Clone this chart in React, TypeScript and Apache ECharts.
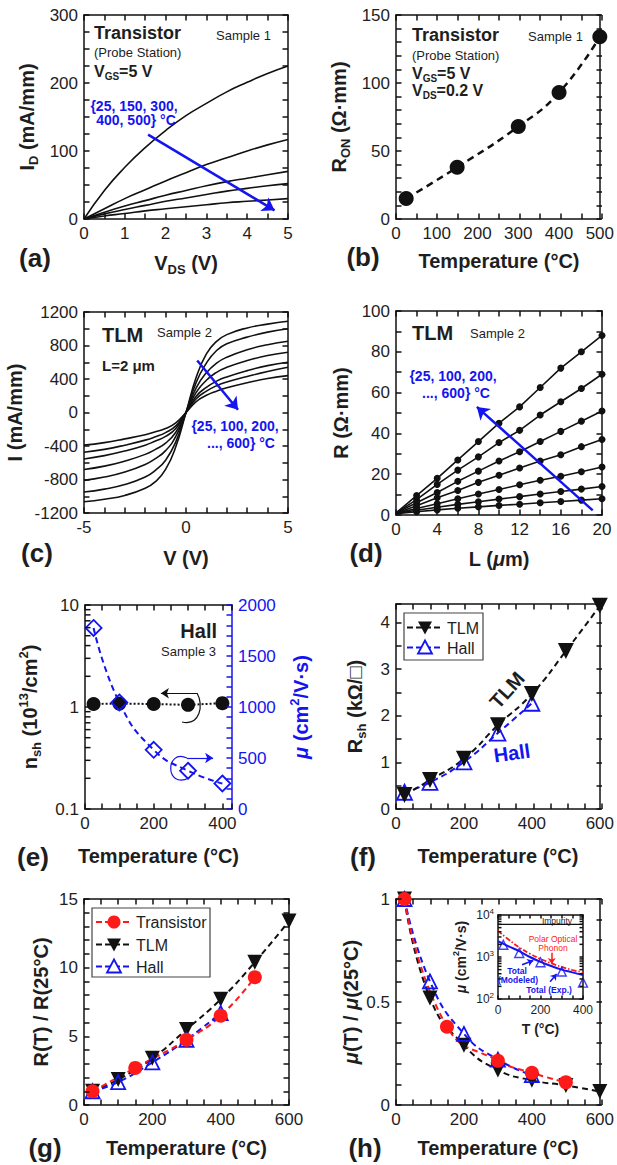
import React, { useEffect, useRef } from 'react';
import * as echarts from 'echarts';

const FONT = '"Liberation Sans", Arial, Helvetica, sans-serif';
const BLACK = '#111111';
const TXT = '#1e1e1e';
const BLUE = '#1414f0';
const RED = '#ff1a1a';
const CLEAR = 'rgba(0,0,0,0)';

// ---------- (a) Transistor I-V, Sample 1 ----------
const vdsA = [0, 0.5, 1, 1.5, 2, 2.5, 3, 3.5, 4, 4.5, 5];
const idA25 = [0, 42, 76, 105, 130, 152, 170, 187, 201, 214, 225];
const idA150 = [0, 15, 30, 43, 56, 68, 80, 90, 100, 109, 117];
const idA300 = [0, 10, 19, 27, 35, 42, 49, 55, 60, 65, 70];
const idA400 = [0, 7.5, 14, 20, 26, 31, 36, 41, 45, 49, 52];
const idA500 = [0, 4.5, 8, 12, 15, 18, 21, 24, 26, 28, 30];

// ---------- (b) R_ON vs temperature ----------
const tempB = [25, 150, 300, 400, 500];
const ronB = [15, 38, 68, 93, 134];

// ---------- (c) TLM I-V, L = 2 um ----------
const vC = [-5, -4, -3, -2, -1.5, -1, -0.5, 0, 0.5, 1, 1.5, 2, 3, 4, 5];
const iC25 = [-1065, -1035, -990, -905, -825, -680, -410, 0, 420, 700, 850, 930, 1010, 1055, 1090];
const iC100 = [-950, -915, -860, -770, -690, -570, -350, 0, 360, 590, 740, 820, 900, 960, 1000];
const iC200 = [-810, -770, -710, -620, -550, -455, -285, 0, 295, 475, 590, 660, 750, 810, 850];
const iC300 = [-680, -640, -580, -500, -440, -365, -235, 0, 240, 385, 480, 540, 620, 680, 720];
const iC400 = [-555, -515, -460, -390, -340, -285, -190, 0, 195, 300, 375, 425, 500, 560, 600];
const iC500 = [-475, -440, -390, -330, -290, -240, -160, 0, 165, 255, 320, 365, 430, 490, 540];
const iC600 = [-390, -360, -315, -265, -230, -190, -125, 0, 130, 205, 255, 295, 355, 405, 440];

// ---------- (d) TLM R vs L ----------
const lD = [0, 2, 4, 6, 8, 10, 12, 14, 16, 18, 20];
const rD600 = [1.0, 9.5, 18, 27, 36, 45, 53, 62.5, 72, 80, 88];
const rD500 = [1.0, 7.5, 15, 22, 28.5, 35.5, 41.5, 49, 55.5, 62, 69];
const rD400 = [1.0, 6, 11, 16.5, 21.5, 26.5, 31, 36, 41, 46, 51];
const rD300 = [0.9, 4.5, 8.5, 12, 16, 19.5, 23, 26.5, 29.5, 33.5, 37];
const rD200 = [0.8, 3.2, 5.5, 8, 10.3, 12.5, 14.8, 17, 19, 21.2, 23.5];
const rD100 = [0.7, 2.3, 3.8, 5.2, 6.5, 7.8, 9, 10.3, 11.5, 12.7, 14];
const rD25 = [0.6, 1.6, 2.5, 3.3, 4, 4.7, 5.3, 6, 6.6, 7.3, 8];

// ---------- (e) Hall ----------
const tempE = [25, 100, 200, 300, 400];
const nshE = [1.07, 1.08, 1.07, 1.05, 1.09];
const muE = [1775, 1045, 580, 375, 250];
const logMinorE = [0.2, 0.3, 0.4, 0.5, 0.6, 0.7, 0.8, 0.9, 2, 3, 4, 5, 6, 7, 8, 9];

// ---------- (f) Rsh ----------
const tempTLM = [25, 100, 200, 300, 400, 500, 600];
const tempHall = [25, 100, 200, 300, 400];
const tempTr = [25, 150, 300, 400, 500];
const rshTLM = [0.30, 0.62, 1.08, 1.80, 2.47, 3.39, 4.36];
const rshHall = [0.36, 0.57, 1.01, 1.63, 2.27];

// ---------- (g) R(T)/R(25C) ----------
const rnTr = [1.0, 2.7, 4.75, 6.5, 9.3];
const rnTLM = [1.0, 1.85, 3.4, 5.5, 7.7, 10.4, 13.4];
const rnHall = [1.0, 1.67, 3.1, 4.75, 6.7];

// ---------- (h) mu(T)/mu(25C) ----------
const muTr = [1, 0.38, 0.215, 0.156, 0.11];
const muTLM = [1, 0.52, 0.29, 0.17, 0.12, 0.095, 0.065];
const muHall = [1, 0.6, 0.345, 0.22, 0.145];

// ---------- (h) inset ----------
const tempIn = [25, 100, 200, 300, 400];
const muIn = [1950, 1250, 750, 450, 245];
const tModel = [0, 50, 100, 150, 200, 250, 300, 350, 400];
const muPOP = [4200, 2600, 1700, 1200, 900, 710, 580, 490, 430];
const muTot = [2400, 1800, 1380, 1000, 770, 610, 500, 430, 370];
const impurityT = [0, 400];
const impurityMu = [6000, 6000];
const logMinorIn = [200, 300, 400, 500, 600, 700, 800, 900, 2000, 3000, 4000, 5000, 6000, 7000, 8000, 9000];

// plot rectangles [left, top, width, height]
const GRIDS: Record<string, number[]> = {
  a: [84, 15, 204, 204], b: [396, 15, 206, 204], c: [84, 312, 204, 201], d: [396, 311, 206, 204],
  e: [85, 605, 147, 204], f: [396, 604, 206, 205], g: [84, 899, 205, 206], h: [396, 899, 206, 206],
  inset: [498, 915, 85, 84],
};

const zip = (xs: number[], ys: number[]) => xs.map((x, i) => [x, ys[i]]);

function majorFmt(major: number) {
  return (v: number) => {
    const r = v / major;
    return Math.abs(r - Math.round(r)) < 1e-6 ? String(+v.toFixed(6)) : '';
  };
}

function richName(color: string, fs: number) {
  const s = Math.round(fs * 0.65);
  return {
    b: { fontSize: fs, fontWeight: 'bold', fontFamily: FONT, color, lineHeight: fs + 6, verticalAlign: 'middle' },
    i: { fontSize: fs, fontWeight: 'bold', fontStyle: 'italic', fontFamily: FONT, color, lineHeight: fs + 6, verticalAlign: 'middle' },
    sub: { fontSize: s, fontWeight: 'bold', fontFamily: FONT, color, lineHeight: s, verticalAlign: 'bottom' },
    sup: { fontSize: s, fontWeight: 'bold', fontFamily: FONT, color, lineHeight: s, verticalAlign: 'top' },
  };
}
function richG(color: string, fs: number) {
  const s = Math.round(fs * 0.65);
  return {
    b: { fontSize: fs, fontWeight: 'bold', fontFamily: FONT, fill: color, lineHeight: fs + 6, verticalAlign: 'middle' },
    sub: { fontSize: s, fontWeight: 'bold', fontFamily: FONT, fill: color, lineHeight: s, verticalAlign: 'bottom' },
  };
}

// ---------------- tick overlay charts (one small chart per panel) ----------------
type Side = { min: number; max: number; step?: number; log?: boolean; color?: string };
type TickPanel = { key: string; x: Side; yl: Side; yr: Side; len: number; minorL?: number[]; minorR?: number[] };
const PAD = 12;
const TICK_PANELS: TickPanel[] = [
  { key: 'a', x: { min: 0, max: 5, step: 0.5 }, yl: { min: 0, max: 300, step: 25 }, yr: { min: 0, max: 300, step: 25 }, len: 5.5 },
  { key: 'b', x: { min: 0, max: 500, step: 50 }, yl: { min: 0, max: 150, step: 10 }, yr: { min: 0, max: 150, step: 10 }, len: 5.5 },
  { key: 'c', x: { min: -5, max: 5, step: 1 }, yl: { min: -1200, max: 1200, step: 200 }, yr: { min: -1200, max: 1200, step: 200 }, len: 5.5 },
  { key: 'd', x: { min: 0, max: 20, step: 2 }, yl: { min: 0, max: 100, step: 10 }, yr: { min: 0, max: 100, step: 10 }, len: 5.5 },
  { key: 'e', x: { min: 0, max: 428, step: 50 }, yl: { min: 0.1, max: 10, log: true }, yr: { min: 0, max: 2000, step: 100, color: BLUE }, len: 5.5, minorL: logMinorE },
  { key: 'f', x: { min: 0, max: 600, step: 50 }, yl: { min: 0, max: 4.4, step: 0.5 }, yr: { min: 0, max: 4.4, step: 0.5 }, len: 5.5 },
  { key: 'g', x: { min: 0, max: 600, step: 50 }, yl: { min: 0, max: 15, step: 1 }, yr: { min: 0, max: 15, step: 1 }, len: 5.5 },
  { key: 'h', x: { min: 0, max: 600, step: 50 }, yl: { min: 0, max: 1, step: 0.1 }, yr: { min: 0, max: 1, step: 0.1 }, len: 5.5 },
  { key: 'inset', x: { min: 0, max: 400, step: 50 }, yl: { min: 100, max: 10000, log: true }, yr: { min: 100, max: 10000, log: true }, len: 3.5, minorL: logMinorIn, minorR: logMinorIn },
];

function tickOption(p: TickPanel) {
  const [, , w, h] = GRIDS[p.key];
  const mk = (pos: string, s: Side) => ({
    gridIndex: 0, position: pos, type: s.log ? 'log' : 'value', min: s.min, max: s.max,
    ...(s.log ? { logBase: 10 } : { interval: s.step }),
    axisLine: { show: false, onZero: false },
    axisLabel: { show: false },
    splitLine: { show: false },
    axisTick: { show: true, inside: true, length: p.len, lineStyle: { color: s.color || BLACK, width: 1.5 } },
  });
  const series: any[] = [
    { type: 'line', xAxisIndex: 0, yAxisIndex: 0, data: [], symbol: 'none', silent: true },
    { type: 'line', xAxisIndex: 1, yAxisIndex: 1, data: [], symbol: 'none', silent: true },
  ];
  const minor = (yIdx: number, vals: number[], atMax: boolean) => {
    const xv = atMax ? p.x.max : p.x.min;
    series.push({
      type: 'custom', xAxisIndex: 0, yAxisIndex: yIdx, clip: false, silent: true,
      data: vals.map((v) => [xv, v]), encode: { x: 0, y: 1 },
      renderItem: (_q: any, api: any) => {
        const c = api.coord([api.value(0), api.value(1)]);
        const d = atMax ? -p.len : p.len;
        return { type: 'line', shape: { x1: c[0], y1: c[1], x2: c[0] + d, y2: c[1] }, style: { stroke: BLACK, lineWidth: 1.5 } };
      },
    });
  };
  if (p.minorL) minor(0, p.minorL, false);
  if (p.minorR) minor(1, p.minorR, true);
  return {
    animation: false, backgroundColor: 'transparent',
    grid: [{ left: PAD, top: PAD, width: w, height: h }],
    xAxis: [mk('bottom', p.x), mk('top', p.x)],
    yAxis: [mk('left', p.yl), mk('right', p.yr)],
    series,
  };
}

// ---------------- main chart ----------------
function buildOption() {
  const grid: any[] = [];
  const xAxis: any[] = [];
  const yAxis: any[] = [];
  const series: any[] = [];
  const graphic: any[] = [];

  const addGrid = (key: string) => {
    const [l, t, w, h] = GRIDS[key];
    grid.push({ left: l, top: t, width: w, height: h });
    return grid.length - 1;
  };

  const axis = (gi: number, pos: string, o: any) => {
    const isX = pos === 'bottom' || pos === 'top';
    const col = o.color || BLACK;
    const ax: any = {
      gridIndex: gi, position: pos, type: o.log ? 'log' : 'value', min: o.min, max: o.max,
      axisLine: { show: true, onZero: false, lineStyle: { color: col, width: 1.5 } },
      axisTick: { show: false },
      splitLine: { show: false },
      axisLabel: {
        show: !!o.labels, margin: o.margin ?? 6, fontSize: o.fs ?? 17, fontFamily: FONT,
        color: o.labelColor ?? TXT, showMinLabel: true, showMaxLabel: true,
      },
      z: 3,
    };
    if (o.log) ax.logBase = 10; else ax.interval = o.step;
    if (o.labels) {
      if (o.fmt) ax.axisLabel.formatter = o.fmt;
      else if (o.major) ax.axisLabel.formatter = majorFmt(o.major);
      if (o.labelRich) ax.axisLabel.rich = o.labelRich;
      if (o.name) {
        ax.name = o.name; ax.nameLocation = 'middle'; ax.nameGap = o.nameGap;
        ax.nameTextStyle = { rich: o.nameRich || richName(TXT, o.nameFs ?? 20) };
      }
    }
    const arr = isX ? xAxis : yAxis;
    arr.push(ax);
    return arr.length - 1;
  };

  const box = (gi: number, xo: any, yo: any) => {
    const xi = axis(gi, 'bottom', { ...xo, labels: true });
    axis(gi, 'top', { ...xo, labels: false });
    const yi = axis(gi, 'left', { ...yo, labels: true });
    axis(gi, 'right', { ...yo, labels: false });
    return [xi, yi];
  };

  const arrow = (p1: number[], p2: number[], color: string, width: number, size: number) => ({
    silent: true, symbol: ['none', 'arrow'], symbolSize: size, label: { show: false },
    lineStyle: { color, width, type: 'solid' }, emphasis: { disabled: true },
    data: [[{ coord: p1 }, { coord: p2 }]],
  });

  const T = (x: number, y: number, text: string, o: any = {}, extra: any = {}) => {
    graphic.push({
      type: 'text', x, y, silent: true, z: 10, ...extra,
      style: { text, fontFamily: FONT, fontSize: 13, fill: TXT, align: 'left', verticalAlign: 'middle', ...o },
    });
  };
  const subRich = (fs: number, color = TXT) => ({
    b: { fontSize: fs, fontWeight: 'bold', fontFamily: FONT, fill: color, lineHeight: fs + 4, verticalAlign: 'middle' },
    s: { fontSize: Math.round(fs * 0.65), fontWeight: 'bold', fontFamily: FONT, fill: color, lineHeight: Math.round(fs * 0.65), verticalAlign: 'bottom' },
  });

  const TEMP = '{b|Temperature (°C)}';

  // ===== (a) =====
  const ga = addGrid('a');
  const [xa, ya] = box(ga,
    { min: 0, max: 5, step: 0.5, major: 1, name: '{b|V}{sub|DS}{b| (V)}', nameGap: 31 },
    { min: 0, max: 300, step: 25, major: 100, name: '{b|I}{sub|D}{b| (mA/mm)}', nameGap: 44 });
  [idA25, idA150, idA300, idA400, idA500].forEach((arr, k) => {
    series.push({
      type: 'line', xAxisIndex: xa, yAxisIndex: ya, data: zip(vdsA, arr), smooth: true, symbol: 'none',
      lineStyle: { color: BLACK, width: 1.6 }, silent: true,
      markLine: k === 0 ? arrow([1.57, 124], [4.67, 12.7], BLUE, 2.5, 12) : undefined,
    });
  });

  // ===== (b) =====
  const gb = addGrid('b');
  const [xb, yb] = box(gb, { min: 0, max: 500, step: 50, major: 100 }, { min: 0, max: 150, step: 10, major: 50 });
  series.push({
    type: 'line', xAxisIndex: xb, yAxisIndex: yb, data: zip(tempB, ronB), smooth: true,
    symbol: 'circle', symbolSize: 15, itemStyle: { color: BLACK },
    lineStyle: { color: BLACK, width: 2.5, type: [7, 5] }, silent: true,
  });
  T(499, 261, 'Temperature (°C)', { fontSize: 20, fontWeight: 'bold', align: 'center' });
  T(339, 117, '{b|R}{sub|ON}{b| (Ω·mm)}', { rich: richG(TXT, 20), align: 'center' }, { rotation: Math.PI / 2 });

  // ===== (c) =====
  const gc = addGrid('c');
  const [xc, yc] = box(gc,
    { min: -5, max: 5, step: 1, major: 5, name: '{b|V (V)}', nameGap: 32 },
    { min: -1200, max: 1200, step: 200, major: 400, name: '{b|I (mA/mm)}', nameGap: 56 });
  [iC25, iC100, iC200, iC300, iC400, iC500, iC600].forEach((arr, k) => {
    series.push({
      type: 'line', xAxisIndex: xc, yAxisIndex: yc, data: zip(vC, arr), smooth: true, symbol: 'none',
      lineStyle: { color: BLACK, width: 1.6 }, silent: true,
      markLine: k === 0 ? arrow([0.55, 620], [2.55, 32], BLUE, 2.5, 12) : undefined,
    });
  });

  // ===== (d) =====
  const gd = addGrid('d');
  const [xd, yd] = box(gd,
    { min: 0, max: 20, step: 2, major: 4, name: '{b|L (}{i|μ}{b|m)}', nameGap: 31 },
    { min: 0, max: 100, step: 10, major: 20, name: '{b|R (Ω·mm)}', nameGap: 42 });
  [rD25, rD100, rD200, rD300, rD400, rD500, rD600].forEach((arr, k) => {
    series.push({
      type: 'line', xAxisIndex: xd, yAxisIndex: yd,
      data: lD.map((l, i) => (i === 0 ? { value: [l, arr[i]], symbol: 'none' } : [l, arr[i]])),
      symbol: 'circle', symbolSize: 7, showSymbol: true, itemStyle: { color: BLACK },
      lineStyle: { color: BLACK, width: 1.6 }, silent: true,
      markLine: k === 0 ? arrow([19.1, 2.3], [7.85, 53], BLUE, 2.5, 12) : undefined,
    });
  });

  // ===== (e) =====
  const ge = addGrid('e');
  const xe = axis(ge, 'bottom', { min: 0, max: 428, step: 50, major: 200, labels: true, name: TEMP, nameGap: 34 });
  axis(ge, 'top', { min: 0, max: 428, step: 50, labels: false });
  const yeL = axis(ge, 'left', {
    min: 0.1, max: 10, log: true, labels: true,
    fmt: (v: number) => String(+v.toFixed(3)),
    name: '{b|n}{sub|sh}{b| (10}{sup|13}{b|/cm}{sup|2}{b|)}', nameGap: 42,
  });
  const yeR = axis(ge, 'right', {
    min: 0, max: 2000, step: 100, major: 500, labels: true, color: BLUE, labelColor: BLUE,
    name: '{i|μ}{b| (cm}{sup|2}{b|/V·s)}', nameGap: 56, nameRich: richName(BLUE, 20),
  });
  series.push({
    type: 'line', xAxisIndex: xe, yAxisIndex: yeL, data: zip(tempE, nshE), symbol: 'circle', symbolSize: 14,
    itemStyle: { color: BLACK }, lineStyle: { color: BLACK, width: 2, type: [2, 2] }, silent: true,
    markLine: arrow([326, 1.363], [221, 1.363], BLACK, 1.2, 8),
  });
  series.push({
    type: 'line', xAxisIndex: xe, yAxisIndex: yeR, data: zip(tempE, muE), smooth: true, symbol: 'diamond', symbolSize: 16,
    itemStyle: { color: CLEAR, borderColor: BLUE, borderWidth: 1.8 },
    lineStyle: { color: BLUE, width: 2, type: [6, 4] }, silent: true,
    markLine: arrow([297, 500], [373, 500], BLUE, 1.2, 8),
  });

  // ===== (f) =====
  const gf = addGrid('f');
  const [xf, yf] = box(gf,
    { min: 0, max: 600, step: 50, major: 200, name: TEMP, nameGap: 34 },
    { min: 0, max: 4.4, step: 0.5, major: 1, name: '{b|R}{sub|sh}{b| (kΩ/□)}', nameGap: 28 });
  const openTri = { color: CLEAR, borderColor: BLUE, borderWidth: 1.8 };
  series.push({
    name: 'Hall', type: 'line', xAxisIndex: xf, yAxisIndex: yf, data: zip(tempHall, rshHall), smooth: true,
    symbol: 'triangle', symbolSize: 15, itemStyle: openTri, lineStyle: { color: BLUE, width: 2, type: [6, 4] }, silent: true,
  });
  series.push({
    name: 'TLM', type: 'line', xAxisIndex: xf, yAxisIndex: yf, data: zip(tempTLM, rshTLM), smooth: true,
    symbol: 'triangle', symbolRotate: 180, symbolSize: 16, itemStyle: { color: BLACK },
    lineStyle: { color: BLACK, width: 2, type: [6, 4] }, silent: true,
  });

  // ===== (g) =====
  const gg = addGrid('g');
  const [xg, yg] = box(gg,
    { min: 0, max: 600, step: 50, major: 200, name: TEMP, nameGap: 30 },
    { min: 0, max: 15, step: 1, major: 5, name: '{b|R(T) / R(25°C)}', nameGap: 30 });
  series.push({
    name: 'TLM', type: 'line', xAxisIndex: xg, yAxisIndex: yg, data: zip(tempTLM, rnTLM), smooth: true,
    symbol: 'triangle', symbolRotate: 180, symbolSize: 15, itemStyle: { color: BLACK },
    lineStyle: { color: BLACK, width: 2, type: [6, 4] }, silent: true,
  });
  series.push({
    name: 'Hall', type: 'line', xAxisIndex: xg, yAxisIndex: yg, data: zip(tempHall, rnHall), smooth: true,
    symbol: 'triangle', symbolSize: 14, itemStyle: openTri, lineStyle: { color: BLUE, width: 2, type: [6, 4] }, silent: true,
  });
  series.push({
    name: 'Transistor', type: 'line', xAxisIndex: xg, yAxisIndex: yg, data: zip(tempTr, rnTr), smooth: true,
    symbol: 'circle', symbolSize: 14, itemStyle: { color: RED }, lineStyle: { color: RED, width: 2, type: [6, 4] }, silent: true,
  });

  // ===== (h) =====
  const gh = addGrid('h');
  const [xh, yh] = box(gh,
    { min: 0, max: 600, step: 50, major: 200, name: TEMP, nameGap: 30 },
    { min: 0, max: 1, step: 0.1, major: 0.5, name: '{i|μ}{b|(T) / }{i|μ}{b|(25°C)}', nameGap: 32 });
  series.push({
    name: 'TLM', type: 'line', xAxisIndex: xh, yAxisIndex: yh, data: zip(tempTLM, muTLM), smooth: true,
    symbol: 'triangle', symbolRotate: 180, symbolSize: 15, itemStyle: { color: BLACK },
    lineStyle: { color: BLACK, width: 2, type: [6, 4] }, silent: true,
  });
  series.push({
    name: 'Hall', type: 'line', xAxisIndex: xh, yAxisIndex: yh, data: zip(tempHall, muHall), smooth: true,
    symbol: 'triangle', symbolSize: 14, itemStyle: openTri, lineStyle: { color: BLUE, width: 2, type: [6, 4] }, silent: true,
  });
  series.push({
    name: 'Transistor', type: 'line', xAxisIndex: xh, yAxisIndex: yh, data: zip(tempTr, muTr), smooth: true,
    symbol: 'circle', symbolSize: 14, itemStyle: { color: RED }, lineStyle: { color: RED, width: 2, type: [6, 4] }, silent: true,
  });

  // ===== inset =====
  const gi = addGrid('inset');
  const supRich = {
    n: { fontSize: 12, fontFamily: FONT, color: TXT, lineHeight: 16, verticalAlign: 'middle' },
    sup: { fontSize: 8, fontFamily: FONT, color: TXT, lineHeight: 8, verticalAlign: 'top' },
  };
  const xi = axis(gi, 'bottom', { min: 0, max: 400, step: 50, major: 200, labels: true, fs: 12, margin: 5, name: '{b|T (°C)}', nameGap: 20, nameFs: 14 });
  axis(gi, 'top', { min: 0, max: 400, step: 50, labels: false });
  const yi = axis(gi, 'left', {
    min: 100, max: 10000, log: true, labels: true, margin: 4, labelRich: supRich,
    fmt: (v: number) => '{n|10}{sup|' + Math.round(Math.log10(v)) + '}',
    name: '{i|μ}{b| (cm}{sup|2}{b|/V·s)}', nameGap: 27, nameFs: 14,
  });
  axis(gi, 'right', { min: 100, max: 10000, log: true, labels: false });
  series.push({
    type: 'line', xAxisIndex: xi, yAxisIndex: yi, data: zip(impurityT, impurityMu), symbol: 'none',
    lineStyle: { color: BLACK, width: 1.2 }, silent: true,
  });
  series.push({
    type: 'line', xAxisIndex: xi, yAxisIndex: yi, data: zip(tModel, muPOP), smooth: true, symbol: 'none',
    lineStyle: { color: RED, width: 1.8, type: [5, 2, 1.5, 2] }, silent: true,
    markLine: arrow([253, 1270], [253, 680], RED, 1.5, 6),
  });
  series.push({
    type: 'line', xAxisIndex: xi, yAxisIndex: yi, data: zip(tModel, muTot), smooth: true, symbol: 'none',
    lineStyle: { color: BLUE, width: 2 }, silent: true,
    markLine: {
      silent: true, symbol: ['none', 'arrow'], symbolSize: 6, label: { show: false },
      lineStyle: { color: BLUE, width: 1.5, type: 'solid' }, emphasis: { disabled: true },
      data: [
        [{ coord: [113, 652] }, { coord: [166, 828] }],
        [{ coord: [245, 258] }, { coord: [276, 396] }],
      ],
    },
  });
  series.push({
    type: 'scatter', xAxisIndex: xi, yAxisIndex: yi, data: zip(tempIn, muIn), symbol: 'triangle', symbolSize: 9,
    itemStyle: { color: CLEAR, borderColor: BLUE, borderWidth: 1.4 }, silent: true, z: 4,
  });

  // ===== texts =====
  T(94, 33, 'Transistor', { fontSize: 18, fontWeight: 'bold' });
  T(94, 52, '(Probe Station)', { fontSize: 13 });
  T(94, 71, '{b|V}{s|GS}{b|=5 V}', { rich: subRich(16) });
  T(216, 35, 'Sample 1', { fontSize: 13 });
  T(134, 106, '{25, 150, 300,', { fontSize: 14, fontWeight: 'bold', fill: BLUE, align: 'center' });
  T(136, 120, '400, 500} °C', { fontSize: 14, fontWeight: 'bold', fill: BLUE, align: 'center' });
  T(412, 35, 'Transistor', { fontSize: 18, fontWeight: 'bold' });
  T(412, 55, '(Probe Station)', { fontSize: 13 });
  T(412, 73, '{b|V}{s|GS}{b|=5 V}', { rich: subRich(16) });
  T(412, 90, '{b|V}{s|DS}{b|=0.2 V}', { rich: subRich(16) });
  T(528, 36, 'Sample 1', { fontSize: 13 });
  T(102, 335, 'TLM', { fontSize: 20, fontWeight: 'bold' });
  T(157, 332, 'Sample 2', { fontSize: 13 });
  T(102, 365, 'L=2 μm', { fontSize: 15, fontWeight: 'bold' });
  T(235, 426, '{25, 100, 200,', { fontSize: 14, fontWeight: 'bold', fill: BLUE, align: 'center' });
  T(241, 443, '..., 600} °C', { fontSize: 14, fontWeight: 'bold', fill: BLUE, align: 'center' });
  T(412, 333, 'TLM', { fontSize: 20, fontWeight: 'bold' });
  T(470, 333, 'Sample 2', { fontSize: 13 });
  T(453, 376, '{25, 100, 200,', { fontSize: 14, fontWeight: 'bold', fill: BLUE, align: 'center' });
  T(456, 393, '..., 600} °C', { fontSize: 14, fontWeight: 'bold', fill: BLUE, align: 'center' });
  T(217, 631, 'Hall', { fontSize: 20, fontWeight: 'bold', align: 'right' });
  T(216, 651, 'Sample 3', { fontSize: 13, align: 'right' });
  graphic.push({
    type: 'bezierCurve', silent: true, z: 10,
    shape: { x1: 197, y1: 693, cpx1: 204, cpy1: 705, cpx2: 200, cpy2: 726, x2: 182, y2: 722 },
    style: { stroke: BLACK, lineWidth: 1.2, fill: 'none' },
  });
  graphic.push({
    type: 'bezierCurve', silent: true, z: 10,
    shape: { x1: 187, y1: 758, cpx1: 165, cpy1: 748, cpx2: 165, cpy2: 790, x2: 189, y2: 778 },
    style: { stroke: BLUE, lineWidth: 1.2, fill: 'none' },
  });
  T(507, 690, 'TLM', { fontSize: 20, fontWeight: 'bold', align: 'center' }, { rotation: (48 * Math.PI) / 180 });
  T(512, 753, 'Hall', { fontSize: 20, fontWeight: 'bold', fill: BLUE, align: 'center' }, { rotation: (8 * Math.PI) / 180 });
  T(557, 920.5, 'Impurity', { fontSize: 8.5, align: 'center' });
  T(553, 939, 'Polar Optical', { fontSize: 8.5, fill: RED, align: 'center' });
  T(553, 948, 'Phonon', { fontSize: 8.5, fill: RED, align: 'center' });
  T(517, 970.5, 'Total', { fontSize: 8.5, fontWeight: 'bold', fill: BLUE, align: 'center' });
  T(518, 980, '(Modeled)', { fontSize: 8.5, fontWeight: 'bold', fill: BLUE, align: 'center' });
  T(549, 989.5, 'Total (Exp.)', { fontSize: 8.5, fontWeight: 'bold', fill: BLUE, align: 'center' });
  const letters: [string, number, number][] = [
    ['(a)', 35, 258], ['(b)', 363, 257], ['(c)', 37, 553], ['(d)', 366, 553],
    ['(e)', 33, 857], ['(f)', 363, 857], ['(g)', 45, 1148], ['(h)', 365, 1148],
  ];
  letters.forEach(([s, x, y]) => T(x, y, s, { fontSize: 26, fontWeight: 'bold', align: 'center' }));

  // ===== legends =====
  const legendBox = (x: number, y: number, w: number, h: number) =>
    graphic.push({ type: 'rect', silent: true, z: 8, shape: { x, y, width: w, height: h }, style: { fill: '#fff', stroke: '#444', lineWidth: 1.2 } });
  const legendRow = (x: number, y: number, kind: string, label: string) => {
    const color = kind === 'tr' ? RED : kind === 'tlm' ? BLACK : BLUE;
    graphic.push({ type: 'polyline', silent: true, z: 9, shape: { points: [[x, y], [x + 36, y]] }, style: { stroke: color, lineWidth: 2, lineDash: [6, 3], fill: 'none' } });
    const cx = x + 18;
    if (kind === 'tr') graphic.push({ type: 'circle', silent: true, z: 9, shape: { cx, cy: y, r: 6.5 }, style: { fill: RED } });
    else if (kind === 'tlm') graphic.push({ type: 'polygon', silent: true, z: 9, shape: { points: [[cx - 7, y - 6], [cx + 7, y - 6], [cx, y + 7]] }, style: { fill: BLACK } });
    else graphic.push({ type: 'polygon', silent: true, z: 9, shape: { points: [[cx, y - 7], [cx - 7, y + 6], [cx + 7, y + 6]] }, style: { fill: '#fff', stroke: BLUE, lineWidth: 1.8 } });
    T(x + 40, y + 0.5, label, { fontSize: 16 }, { z: 9 });
  };
  legendBox(404, 613, 79, 47);
  legendRow(407, 627.5, 'tlm', 'TLM');
  legendRow(407, 647.5, 'hall', 'Hall');
  legendBox(92, 908, 118, 69);
  legendRow(96, 922, 'tr', 'Transistor');
  legendRow(96, 944.5, 'tlm', 'TLM');
  legendRow(96, 966.5, 'hall', 'Hall');

  return { animation: false, grid, xAxis, yAxis, series, graphic };
}

export default function App() {
  const ref = useRef<HTMLDivElement>(null);
  const tickRefs = useRef<(HTMLDivElement | null)[]>([]);
  useEffect(() => {
    if (!ref.current) return;
    const charts: any[] = [];
    const main = echarts.init(ref.current, null, { renderer: 'svg' });
    main.setOption(buildOption() as any);
    charts.push(main);
    TICK_PANELS.forEach((p, i) => {
      const el = tickRefs.current[i];
      if (!el) return;
      const c = echarts.init(el, null, { renderer: 'svg' });
      c.setOption(tickOption(p) as any);
      charts.push(c);
    });
    return () => charts.forEach((c) => c.dispose());
  }, []);
  return (
    <div style={{ position: 'absolute', left: 0, top: 0, width: 617, height: 1165, background: '#fff' }}>
      <div ref={ref} style={{ position: 'absolute', left: 0, top: 0, width: 617, height: 1165 }} />
      {TICK_PANELS.map((p, i) => {
        const [l, t, w, h] = GRIDS[p.key];
        return (
          <div
            key={p.key}
            ref={(el) => { tickRefs.current[i] = el; }}
            style={{
              position: 'absolute', left: l - PAD, top: t - PAD, width: w + 2 * PAD, height: h + 2 * PAD,
              pointerEvents: 'none',
            }}
          />
        );
      })}
    </div>
  );
}
